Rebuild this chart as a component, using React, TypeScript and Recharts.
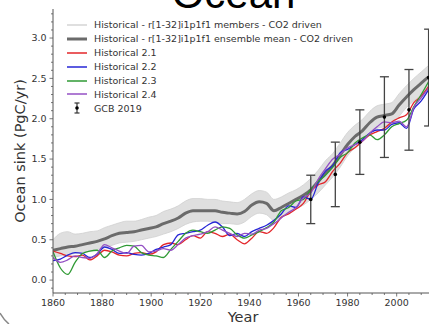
import React from 'react';
import { ComposedChart, Line, Area, Scatter, ErrorBar, XAxis, YAxis } from 'recharts';

const years = [
  1860, 1863, 1866, 1869, 1872, 1875, 1878, 1881, 1884, 1887, 1890, 1893, 1896,
  1899, 1902, 1905, 1908, 1911, 1914, 1917, 1920, 1923, 1926, 1929, 1932, 1935,
  1938, 1941, 1944, 1947, 1950, 1953, 1956, 1959, 1962, 1965, 1968, 1971, 1974,
  1977, 1980, 1983, 1986, 1989, 1992, 1995, 1998, 2001, 2004, 2007, 2010, 2013,
];
const ensembleMean = [
  0.37, 0.39, 0.41, 0.42, 0.44, 0.46, 0.48, 0.51, 0.55, 0.58, 0.59, 0.6, 0.62,
  0.64, 0.66, 0.7, 0.73, 0.77, 0.83, 0.86, 0.86, 0.86, 0.86, 0.84, 0.83, 0.82,
  0.85, 0.93, 0.97, 0.95, 0.86, 0.9, 0.95, 1.0, 1.05, 1.12, 1.22, 1.33, 1.42,
  1.55, 1.68, 1.78, 1.85, 1.95, 2.02, 2.04, 2.06, 2.17, 2.27, 2.36, 2.44, 2.52,
];
const membersLow = [
  0.28, 0.3, 0.31, 0.33, 0.34, 0.36, 0.38, 0.4, 0.43, 0.46, 0.47, 0.48, 0.5,
  0.52, 0.54, 0.57, 0.6, 0.64, 0.69, 0.72, 0.73, 0.73, 0.72, 0.7, 0.7, 0.69,
  0.72, 0.79, 0.83, 0.81, 0.74, 0.78, 0.83, 0.88, 0.93, 1.0, 1.08, 1.18, 1.28,
  1.4, 1.54, 1.64, 1.72, 1.82, 1.88, 1.9, 1.93, 2.03, 2.14, 2.22, 2.3, 2.38,
];
const membersHigh = [
  0.5, 0.58, 0.6, 0.57, 0.58, 0.6, 0.61, 0.65, 0.68, 0.71, 0.73, 0.73, 0.75,
  0.78, 0.8, 0.85, 0.88, 0.92, 0.98, 1.01, 1.01, 1.0, 1.0, 0.98, 0.97, 0.96,
  1.0, 1.07, 1.11, 1.09, 1.0, 1.03, 1.08, 1.12, 1.18, 1.26, 1.36, 1.48, 1.57,
  1.7, 1.83, 1.92, 1.99, 2.09, 2.16, 2.18, 2.2, 2.31, 2.41, 2.5, 2.58, 2.66,
];
const hist21 = [
  0.36, 0.33, 0.3, 0.29, 0.31, 0.25, 0.3, 0.37, 0.35, 0.31, 0.3, 0.33, 0.34,
  0.32, 0.35, 0.44, 0.46, 0.44, 0.5, 0.55, 0.52, 0.6, 0.58, 0.54, 0.57, 0.5,
  0.45, 0.52, 0.6, 0.58, 0.65, 0.78, 0.82, 0.88, 0.95, 1.1, 1.18, 1.22, 1.35,
  1.45, 1.58, 1.64, 1.72, 1.8, 1.84, 1.88, 1.96, 2.01, 2.05, 2.2, 2.28, 2.4,
];
const hist22 = [
  0.24, 0.26, 0.31, 0.34, 0.33, 0.28, 0.32, 0.41, 0.38, 0.33, 0.34, 0.32, 0.31,
  0.33, 0.38, 0.41, 0.44, 0.56, 0.58, 0.6, 0.62, 0.68, 0.72, 0.66, 0.55, 0.58,
  0.54, 0.6, 0.64, 0.68, 0.74, 0.82, 0.92, 0.9, 1.03, 1.0, 1.2, 1.35, 1.42,
  1.58, 1.62, 1.68, 1.74, 1.82, 1.86, 1.86, 1.93, 1.95, 1.88, 2.12, 2.22, 2.36,
];
const hist23 = [
  0.35, 0.15, 0.07, 0.22, 0.33, 0.36, 0.37, 0.28, 0.36, 0.4, 0.43, 0.42, 0.34,
  0.31, 0.3, 0.28, 0.38, 0.48, 0.58, 0.62, 0.6, 0.58, 0.62, 0.66, 0.64, 0.56,
  0.52, 0.56, 0.6, 0.65, 0.72, 0.86, 0.9, 0.98, 1.0, 1.12, 1.22, 1.3, 1.4,
  1.52, 1.58, 1.7, 1.76, 1.8, 1.74, 1.8, 1.9, 1.94, 1.98, 2.15, 2.3, 2.46,
];
const hist24 = [
  0.28, 0.22, 0.25, 0.3, 0.28, 0.27, 0.33, 0.44, 0.4, 0.36, 0.33, 0.42, 0.43,
  0.35, 0.36, 0.39, 0.37, 0.44, 0.52, 0.55, 0.57, 0.6, 0.66, 0.62, 0.58, 0.54,
  0.58, 0.57, 0.62, 0.64, 0.7, 0.77, 0.84, 0.9, 1.02, 1.08, 1.25, 1.38, 1.5,
  1.56, 1.64, 1.68, 1.72, 1.82, 1.9, 1.96, 1.95, 1.97, 1.9, 2.14, 2.26, 2.38,
];

// Global Carbon Budget 2019 decadal means with uncertainty
const gcbYears = [1965, 1975, 1985, 1995, 2005, 2013];
const gcbSink = [1.0, 1.31, 1.71, 2.02, 2.11, 2.51];
const gcbUncertainty = [0.3, 0.4, 0.4, 0.5, 0.5, 0.6];

const yTicks = [
  -0.1, 0, 0.1, 0.2, 0.3, 0.4, 0.5, 0.6, 0.7, 0.8, 0.9, 1, 1.1, 1.2, 1.3, 1.4,
  1.5, 1.6, 1.7, 1.8, 1.9, 2, 2.1, 2.2, 2.3, 2.4, 2.5, 2.6, 2.7, 2.8, 2.9, 3,
  3.1, 3.2, 3.3,
];
const xTicks = [
  1860, 1865, 1870, 1875, 1880, 1885, 1890, 1895, 1900, 1905, 1910, 1915, 1920,
  1925, 1930, 1935, 1940, 1945, 1950, 1955, 1960, 1965, 1970, 1975, 1980, 1985,
  1990, 1995, 2000, 2005, 2010, 2015,
];

const legendItems = [
  { label: 'Historical - r[1-32]i1p1f1 members - CO2 driven', color: '#d4d4d4', width: 1.5 },
  { label: 'Historical - r[1-32]i1p1f1 ensemble mean - CO2 driven', color: '#6b6b6b', width: 3 },
  { label: 'Historical 2.1', color: '#e3262a', width: 1.5 },
  { label: 'Historical 2.2', color: '#2626d6', width: 1.5 },
  { label: 'Historical 2.3', color: '#2f9a34', width: 1.5 },
  { label: 'Historical 2.4', color: '#9450c4', width: 1.5 },
];

const table = years.map((year, i) => ({
  year,
  members: [membersLow[i], membersHigh[i]],
  mean: ensembleMean[i],
  h21: hist21[i],
  h22: hist22[i],
  h23: hist23[i],
  h24: hist24[i],
}));

const gcbData = gcbYears.map((year, i) => ({ year, sink: gcbSink[i], err: gcbUncertainty[i] }));

const FONT = '"DejaVu Sans", sans-serif';
const AXIS = '#555';
const LABEL = '#333';

const isMajorY = (v: number) => Math.abs(v * 2 - Math.round(v * 2)) < 1e-6;

const YTick = ({ x, y, payload }: any) => {
  const major = isMajorY(payload.value);
  return (
    <g>
      <line x1={x - (major ? 3.5 : 2)} x2={x} y1={y} y2={y} stroke={AXIS} strokeWidth={0.8} />
      {major && (
        <text x={x - 6.5} y={y} dy="0.35em" textAnchor="end" fontSize={9.5} fontFamily={FONT} fill={LABEL}>
          {payload.value.toFixed(1)}
        </text>
      )}
    </g>
  );
};

const XTick = ({ x, y, payload }: any) => {
  const major = payload.value % 20 === 0;
  return (
    <g>
      <line x1={x} x2={x} y1={y} y2={y + (major ? 3.5 : 2)} stroke={AXIS} strokeWidth={0.8} />
      {major && (
        <text x={x} y={y + 6} dy="0.71em" textAnchor="middle" fontSize={9.5} fontFamily={FONT} fill={LABEL}>
          {payload.value}
        </text>
      )}
    </g>
  );
};

function Legend() {
  return (
    <div style={{ position: 'absolute', left: 67, top: 18, fontFamily: FONT, fontSize: 9.5, color: LABEL }}>
      {legendItems.map((item) => (
        <div key={item.label} style={{ display: 'flex', alignItems: 'center', height: 13.9 }}>
          <svg width={20} height={10} style={{ marginRight: 7 }}>
            <line x1={0} x2={20} y1={5} y2={5} stroke={item.color} strokeWidth={item.width} />
          </svg>
          <span style={{ whiteSpace: 'nowrap' }}>{item.label}</span>
        </div>
      ))}
      <div style={{ display: 'flex', alignItems: 'center', height: 13.9 }}>
        <svg width={20} height={12} style={{ marginRight: 7 }}>
          <line x1={10} x2={10} y1={1} y2={11} stroke="#333" strokeWidth={1.2} />
          <line x1={7.5} x2={12.5} y1={1} y2={1} stroke="#333" strokeWidth={1.2} />
          <line x1={7.5} x2={12.5} y1={11} y2={11} stroke="#333" strokeWidth={1.2} />
          <circle cx={10} cy={6} r={1.8} fill="#000" />
        </svg>
        <span>GCB 2019</span>
      </div>
    </div>
  );
}

export default function App() {
  return (
    <div style={{ position: 'relative', width: 429, height: 324, overflow: 'hidden', background: '#fff' }}>
      <style>{'body{margin:0}'}</style>
      <ComposedChart width={440} height={324} data={table} margin={{ top: 9, right: 6.5, bottom: 0, left: 0 }}>
        <XAxis
          dataKey="year"
          type="number"
          domain={[1860, 2015]}
          ticks={xTicks}
          interval={0}
          allowDataOverflow
          height={31}
          tickSize={0}
          tickMargin={0}
          tickLine={false}
          tick={<XTick />}
          stroke={AXIS}
        />
        <XAxis xAxisId="top" orientation="top" dataKey="year" type="number" domain={[1860, 2015]} height={0} tick={false} tickLine={false} stroke={AXIS} />
        <YAxis
          type="number"
          domain={[-0.16, 3.36]}
          ticks={yTicks}
          interval={0}
          allowDataOverflow
          width={53}
          tickSize={0}
          tickMargin={0}
          tickLine={false}
          tick={<YTick />}
          stroke={AXIS}
        />
        <Area type="monotone" dataKey="members" stroke="#cfcfcf" strokeWidth={0.8} fill="#dcdcdc" fillOpacity={0.9} isAnimationActive={false} />
        <Line type="monotone" dataKey="mean" stroke="#6b6b6b" strokeWidth={3} dot={false} isAnimationActive={false} />
        <Line type="monotone" dataKey="h21" stroke="#e3262a" strokeWidth={1.3} dot={false} isAnimationActive={false} />
        <Line type="monotone" dataKey="h22" stroke="#2626d6" strokeWidth={1.3} dot={false} isAnimationActive={false} />
        <Line type="monotone" dataKey="h23" stroke="#2f9a34" strokeWidth={1.3} dot={false} isAnimationActive={false} />
        <Line type="monotone" dataKey="h24" stroke="#9450c4" strokeWidth={1.3} dot={false} isAnimationActive={false} />
        <Scatter data={gcbData} dataKey="sink" fill="#000" shape={(p: any) => <circle cx={p.cx} cy={p.cy} r={1.8} fill="#000" />} isAnimationActive={false}>
          <ErrorBar dataKey="err" direction="y" width={4.5} stroke="#444" strokeWidth={1.3} isAnimationActive={false} />
        </Scatter>
      </ComposedChart>
      <Legend />
      <svg width={429} height={324} style={{ position: 'absolute', left: 0, top: 0, pointerEvents: 'none' }}>
        <text x={233.5} y={7.5} textAnchor="middle" fontSize={42} fontFamily='"Liberation Sans", Arial, sans-serif' fill="#000">
          Ocean
        </text>
        <text x={243} y={321.5} textAnchor="middle" fontSize={14.5} fontFamily={FONT} fill={LABEL}>
          Year
        </text>
        <text transform="translate(24.5,151) rotate(-90)" textAnchor="middle" fontSize={14.5} fontFamily={FONT} fill={LABEL}>
          Ocean sink (PgC/yr)
        </text>
        <path d="M 0 313 Q 4 320 9 324" fill="none" stroke="#888" strokeWidth={1.5} />
      </svg>
    </div>
  );
}
